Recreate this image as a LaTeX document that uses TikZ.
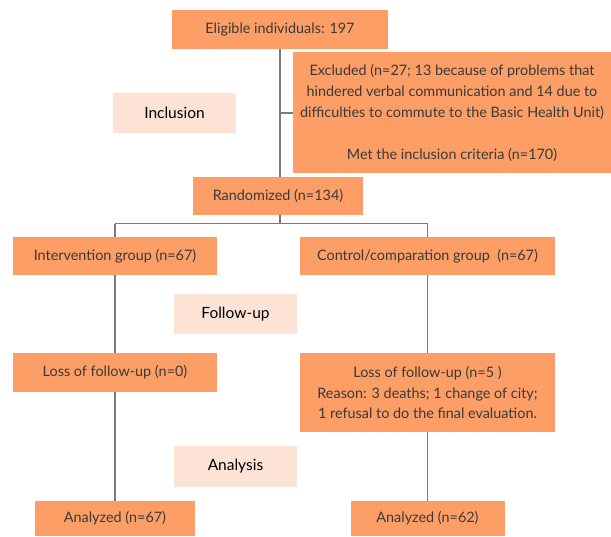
\documentclass[tikz,border=0pt]{standalone}
\usepackage{fontspec}
\setmainfont{Lato}
\definecolor{boxor}{HTML}{FC9E66}
\definecolor{boxlt}{HTML}{FDE3D5}
\definecolor{txt}{HTML}{3A3A3A}
\definecolor{ln}{HTML}{7A7A7A}
\begin{document}
\begin{tikzpicture}[x=1pt,y=-1pt,
  obox/.style={fill=boxor, inner sep=0pt, align=center, text=txt, font=\fontsize{14.4}{21}\selectfont},
  lbox/.style={fill=boxlt, inner sep=0pt, align=center, text=black, font=\fontsize{15.5}{18}\selectfont},
  conn/.style={draw=ln, line width=1.4pt}]
\useasboundingbox (0,0) rectangle (611,536);
\node[obox, minimum width=216pt, minimum height=39pt] (elig) at (280,29.5) {Eligible individuals: 197};
\node[obox, minimum width=318pt, minimum height=121pt] (excl) at (452,112.5) {Excluded (n=27; 13 because of problems that\\hindered verbal communication and 14 due to\\difficulties to commute to the Basic Health Unit)\\[21pt]Met the inclusion criteria (n=170)};
\node[obox, minimum width=170pt, minimum height=38pt] (rand) at (278,196) {Randomized (n=134)};
\node[lbox, minimum width=123pt, minimum height=40pt] (incl) at (174.5,113) {Inclusion};
\node[obox, minimum width=204pt, minimum height=38pt] (int) at (115,256) {Intervention group (n=67)};
\node[obox, minimum width=255pt, minimum height=38pt] (ctrl) at (427.5,256) {Control/comparation group\ \ (n=67)};
\node[lbox, minimum width=123pt, minimum height=40pt] (fu) at (235.5,314) {Follow-up};
\node[obox, minimum width=204pt, minimum height=39pt] (lossL) at (115,372.5) {Loss of follow-up (n=0)};
\node[obox, minimum width=255pt, minimum height=79pt, font=\fontsize{14.4}{20.5}\selectfont] (lossR) at (427.5,392.5) {Loss of follow-up (n=5 )\\Reason: 3 deaths; 1 change of city;\\1 refusal to do the final evaluation.};
\node[lbox, minimum width=123pt, minimum height=41pt] (ana) at (235.5,466.5) {Analysis};
\node[obox, minimum width=160pt, minimum height=35pt] (anL) at (115,518.5) {Analyzed (n=67)};
\node[obox, minimum width=154pt, minimum height=35pt] (anR) at (427.5,518.5) {Analyzed (n=62)};
\coordinate (split) at (280,223.5);
\coordinate (bL) at (115,223.5);
\coordinate (bR) at (427.5,223.5);
\coordinate (exj) at (280,113);
\draw[conn] (elig.south -| split) -- (rand.north -| split);
\draw[conn] (exj) -- (excl.west |- exj);
\draw[conn] (rand.south -| split) -- (split);
\draw[conn] (bL) -- (bR);
\draw[conn] (bL) -- (int.north);
\draw[conn] (bR) -- (ctrl.north);
\draw[conn] (int.south) -- (lossL.north);
\draw[conn] (lossL.south) -- (anL.north);
\draw[conn] (ctrl.south) -- (lossR.north);
\draw[conn] (lossR.south) -- (anR.north);
\end{tikzpicture}
\end{document}
